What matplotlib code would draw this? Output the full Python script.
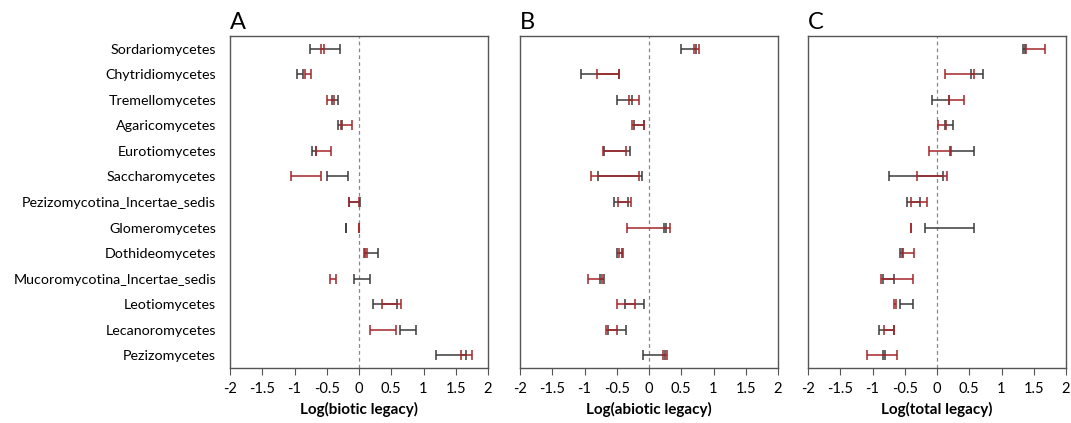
import matplotlib
matplotlib.use('Agg')
import matplotlib.pyplot as plt
import numpy as np

plt.rcParams['font.family'] = ['Lato', 'DejaVu Sans']

taxa = ['Sordariomycetes', 'Chytridiomycetes', 'Tremellomycetes', 'Agaricomycetes',
        'Eurotiomycetes', 'Saccharomycetes', 'Pezizomycotina_Incertae_sedis',
        'Glomeromycetes', 'Dothideomycetes', 'Mucoromycotina_Incertae_sedis',
        'Leotiomycetes', 'Lecanoromycetes', 'Pezizomycetes']

# biotic legacy: (low, high) for black and red intervals
biotic_black_lo = [-0.76, -0.96, -0.42, -0.32, -0.73, -0.50, -0.15, -0.196, 0.09, -0.08, 0.21, 0.63, 1.20]
biotic_black_hi = [-0.29, -0.87, -0.32, -0.26, -0.66, -0.17, 0.02, -0.196, 0.30, 0.165, 0.59, 0.89, 1.66]
biotic_red_lo = [-0.59, -0.83, -0.50, -0.28, -0.66, -1.05, -0.16, 0.005, 0.08, -0.45, 0.35, 0.17, 1.58]
biotic_red_hi = [-0.55, -0.74, -0.39, -0.11, -0.43, -0.59, 0.00, 0.005, 0.13, -0.36, 0.65, 0.58, 1.75]

abiotic_black_lo = [0.49, -1.05, -0.50, -0.24, -0.69, -0.79, -0.54, 0.24, -0.50, -0.76, -0.37, -0.64, -0.10]
abiotic_black_hi = [0.73, -0.465, -0.26, -0.07, -0.30, -0.11, -0.32, 0.27, -0.42, -0.70, -0.07, -0.35, 0.25]
abiotic_red_lo = [0.69, -0.80, -0.31, -0.26, -0.71, -0.90, -0.48, -0.34, -0.46, -0.94, -0.50, -0.67, 0.21]
abiotic_red_hi = [0.77, -0.465, -0.155, -0.07, -0.36, -0.16, -0.28, 0.33, -0.40, -0.73, -0.22, -0.50, 0.28]

total_black_lo = [1.34, 0.52, -0.07, 0.13, 0.20, -0.74, -0.47, -0.18, -0.57, -0.84, -0.57, -0.90, -0.84]
total_black_hi = [1.36, 0.71, 0.18, 0.25, 0.57, 0.09, -0.26, 0.58, -0.52, -0.67, -0.37, -0.67, -0.80]
total_red_lo = [1.38, 0.12, 0.18, 0.01, -0.12, -0.31, -0.40, -0.40, -0.55, -0.87, -0.67, -0.82, -1.08]
total_red_hi = [1.67, 0.57, 0.42, 0.14, 0.21, 0.155, -0.155, -0.40, -0.35, -0.37, -0.63, -0.66, -0.62]

panels = [
    ('A', 'Log(biotic legacy)', biotic_black_lo, biotic_black_hi, biotic_red_lo, biotic_red_hi),
    ('B', 'Log(abiotic legacy)', abiotic_black_lo, abiotic_black_hi, abiotic_red_lo, abiotic_red_hi),
    ('C', 'Log(total legacy)', total_black_lo, total_black_hi, total_red_lo, total_red_hi),
]
xticks = [-2, -1.5, -1, -0.5, 0, 0.5, 1, 1.5, 2]

BLACK = '#3a3a3a'
RED = '#a3262a'

fig = plt.figure(figsize=(10.71, 4.23), dpi=100)
lefts = [230 / 1071, 520 / 1071, 808 / 1071]
y = np.arange(len(taxa))

for i, (letter, xlabel, blo, bhi, rlo, rhi) in enumerate(panels):
    ax = fig.add_axes([lefts[i], 55 / 423, 258 / 1071, 332 / 423])
    for lo, hi, col in [(blo, bhi, BLACK), (rlo, rhi, RED)]:
        lo = np.array(lo)
        hi = np.array(hi)
        mid = (lo + hi) / 2
        half = (hi - lo) / 2
        ax.errorbar(mid, y, xerr=half, fmt='none', ecolor=col, elinewidth=1.1,
                    capsize=3.5, capthick=1.1)
    ax.axvline(0, color='#888888', linestyle=(0, (3, 2.5)), linewidth=0.9, zorder=0)
    ax.set_xlim(-2, 2)
    ax.set_ylim(len(taxa) - 0.5, -0.5)
    ax.set_xticks(xticks)
    ax.set_xticklabels(['%g' % t for t in xticks], fontsize=10.5)
    ax.tick_params(axis='x', direction='out', length=5, color='#555555', pad=5)
    if i == 0:
        ax.set_yticks(y)
        ax.set_yticklabels(taxa, fontsize=10.3)
        ax.tick_params(axis='y', length=0, pad=10)
    else:
        ax.set_yticks([])
    for s in ax.spines.values():
        s.set_color('#555555')
        s.set_linewidth(1.0)
    ax.set_xlabel(xlabel, fontsize=11, fontweight='bold', labelpad=4)
    ax.text(0.0, 1.01, letter, transform=ax.transAxes, fontsize=17,
            ha='left', va='bottom')

fig.savefig('out.png', dpi=100)
